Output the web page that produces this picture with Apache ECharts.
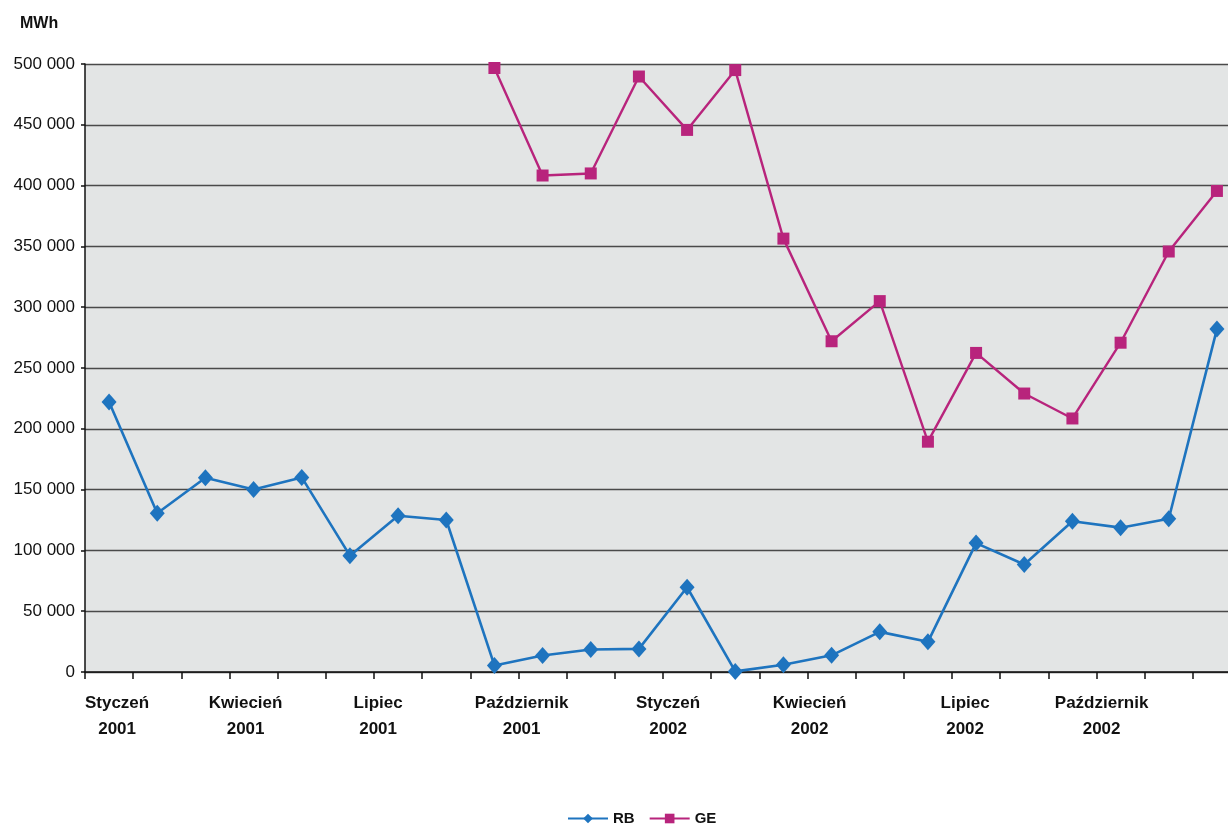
<!DOCTYPE html>
<html>
<head>
<meta charset="utf-8">
<title>RB / GE 2001–2002</title>
<script src="https://cdn.jsdelivr.net/npm/echarts@6/dist/echarts.min.js"></script>
<style>
  html, body { margin: 0; padding: 0; background: #ffffff; overflow: hidden; }
  #chart { width: 1245px; height: 826px; }
</style>
</head>
<body>
<div id="chart"></div>
<script>
// Monthly energy volumes, January 2001 – December 2002 (MWh)
const months = ['Styczeń', 'Luty', 'Marzec', 'Kwiecień', 'Maj', 'Czerwiec',
                'Lipiec', 'Sierpień', 'Wrzesień', 'Październik', 'Listopad', 'Grudzień'];
const years = ['2001', '2002'];
const categories = [];
years.forEach(y => months.forEach(m => categories.push(m + '\n' + y)));

const rbValues = [
  222000, 130500, 159800, 150000, 160000, 95700, 128500, 125000,
  5400, 13600, 18500, 19000, 69700, 500, 6000, 13700,
  33000, 24800, 106000, 88400, 124000, 118700, 126000, 282000
];
const geValues = [
  null, null, null, null, null, null, null, null,
  496700, 408300, 410000, 489700, 445800, 495000, 356400, 272000,
  305000, 189400, 262400, 229000, 208500, 270800, 345800, 395600
];

const yTicks = { min: 0, max: 500000, step: 50000 };
const seriesNames = ['RB', 'GE'];

// horizontal nudges for the month labels under the axis
const labelShift = { 0: 8, 3: -8, 6: -20, 9: -21, 12: -19, 15: -22, 18: -11, 21: -19 };
const rich = {};
Object.keys(labelShift).forEach(k => {
  const d = labelShift[k];
  rich['s' + k] = {
    fontFamily: 'Liberation Sans, Arial, sans-serif',
    fontSize: 17, fontWeight: 'bold', color: '#111', lineHeight: 26,
    padding: d < 0 ? [0, -2 * d, 0, 0] : [0, 0, 0, 2 * d]
  };
});

const fmtThousands = v => String(v).replace(/\B(?=(\d{3})+(?!\d))/g, ' ');

const chart = echarts.init(document.getElementById('chart'), null, { renderer: 'canvas' });
chart.setOption({
  backgroundColor: '#ffffff',
  animation: false,
  title: {
    text: 'MWh',
    left: 15, top: 11,
    textStyle: { fontFamily: 'Liberation Sans, Arial, sans-serif', fontSize: 16, fontWeight: 'bold', color: '#111' }
  },
  grid: {
    left: 85, top: 64, width: 1156, height: 608,
    show: true, backgroundColor: '#e3e5e5', borderWidth: 0
  },
  legend: {
    top: 806, left: 562,
    itemWidth: 40, itemHeight: 12, itemGap: 14,
    textStyle: { fontFamily: 'Liberation Sans, Arial, sans-serif', fontSize: 15, fontWeight: 'bold', color: '#111' },
    data: seriesNames
  },
  xAxis: {
    type: 'category',
    data: categories,
    boundaryGap: true,
    axisLine: { lineStyle: { color: '#111', width: 1.5 } },
    axisTick: { show: true, interval: 0, length: 7, lineStyle: { color: '#111', width: 1.5 } },
    axisLabel: {
      interval: 2, margin: 18,
      formatter: (val, idx) => {
        const key = 's' + idx;
        return val.split('\n').map(p => '{' + key + '|' + p + '}').join('\n');
      },
      rich: rich
    },
    splitLine: { show: false }
  },
  yAxis: {
    type: 'value',
    min: yTicks.min, max: yTicks.max, interval: yTicks.step,
    axisLine: { show: true, lineStyle: { color: '#111', width: 1.5 } },
    axisTick: { show: true, length: 4, lineStyle: { color: '#111', width: 1.5 } },
    axisLabel: {
      margin: 10,
      fontFamily: 'Liberation Sans, Arial, sans-serif', fontSize: 17, color: '#111',
      formatter: fmtThousands
    },
    splitLine: { show: true, lineStyle: { color: '#4a4a4a', width: 1.4 } }
  },
  series: [
    {
      name: seriesNames[0],
      type: 'line',
      data: rbValues,
      symbol: 'diamond', symbolSize: [15, 17],
      itemStyle: { color: '#1e74bf' },
      lineStyle: { color: '#1e74bf', width: 2.6 },
      clip: false, z: 3
    },
    {
      name: seriesNames[1],
      type: 'line',
      data: geValues,
      connectNulls: false,
      symbol: 'rect', symbolSize: 12,
      itemStyle: { color: '#b8247c' },
      lineStyle: { color: '#b8247c', width: 2.4 },
      clip: false, z: 2
    }
  ]
});
</script>
</body>
</html>
